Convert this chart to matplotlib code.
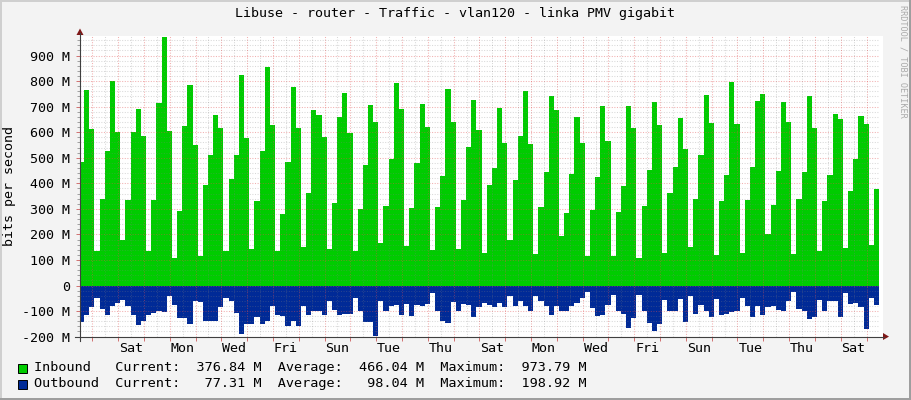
import matplotlib
matplotlib.use("Agg")
import matplotlib.pyplot as plt
import numpy as np
from matplotlib.lines import Line2D
from matplotlib.patches import Rectangle, Polygon

# traffic in M bit/s, one sample every 4.8 h (5 per day)
inbound = [
    484, 767, 611, 137, 338, 525, 802, 601, 180, 334, 601, 689, 584, 137, 334,
    713, 974, 603, 108, 291, 623, 783, 549, 116, 393, 510, 666,
    616, 137, 416, 510, 822, 577, 143, 330, 525, 857, 627, 137, 281, 482, 775,
    616, 152, 362, 685, 666, 580, 143, 322, 658, 755, 597,
    137, 299, 471, 705, 638, 168, 312, 495, 792, 690, 155, 303, 480, 710, 619,
    140, 307, 429, 771, 638, 143, 336, 542, 728, 609, 129, 393,
    460, 693, 557, 178, 412, 584, 763, 553, 124, 307, 443, 740, 685, 194, 283,
    436, 658, 557, 116, 295, 424, 701, 564, 116, 287, 389,
    704, 615, 108, 311, 451, 720, 627, 127, 362, 463, 654, 533, 151, 338, 510,
    744, 635, 120, 330, 432, 795, 631, 127, 334, 463, 724, 748,
    203, 316, 447, 718, 638, 124, 338, 443, 740, 615, 137, 330, 432, 670, 650,
    147, 369, 494, 662, 631, 159, 377,
]
# drawn below zero
outbound = [
    144, 117, 85, 47, 92, 117, 82, 69, 56, 82, 114, 155, 137, 117, 109,
    101, 105, 43, 75, 127, 127, 151, 62, 66, 140, 140, 140,
    85, 47, 62, 108, 189, 150, 150, 125, 150, 138, 79, 114, 121, 157, 140,
    160, 82, 116, 98, 101, 116, 59, 95, 117, 111, 111,
    47, 98, 144, 144, 199, 59, 98, 79, 78, 117, 72, 121, 75, 82, 72,
    29, 101, 137, 147, 66, 101, 73, 75, 124, 85, 69, 75,
    85, 69, 85, 43, 82, 59, 82, 101, 43, 60, 82, 117, 82, 99, 101,
    82, 69, 49, 26, 90, 121, 114, 75, 39, 101, 112,
    166, 127, 36, 101, 147, 179, 151, 56, 98, 98, 53, 143, 40, 112, 75,
    101, 124, 52, 117, 111, 104, 98, 47, 82, 124, 82, 117,
    85, 82, 95, 98, 62, 25, 92, 101, 131, 124, 56, 101, 62, 62, 124,
    30, 72, 69, 85, 170, 49, 77,
]

# hours relative to the first Friday 00:00
step_hours = 4.8
first_step = -12.4
view_start = -11.44
view_end = 731.6

day_labels = ["Sat", "Mon", "Wed", "Fri", "Sun", "Tue", "Thu", "Sat",
              "Mon", "Wed", "Fri", "Sun", "Tue", "Thu", "Sat"]
y_ticks = [-200, -100, 0, 100, 200, 300, 400, 500, 600, 700, 800, 900]

series_names = ["Inbound", "Outbound"]
series_colors = ["#00CC00", "#002A97"]
current = [376.84, 77.31]
average = [466.04, 98.04]
maximum = [973.79, 198.92]

title = "Libuse - router - Traffic - vlan120 - linka PMV gigabit"

W, H = 911, 400
plt.rcParams["font.family"] = "DejaVu Sans Mono"
FS = 9.6


def fx(px):
    return px / W


def fy(py):
    return 1 - py / H


fig = plt.figure(figsize=(W / 100, H / 100), dpi=100, facecolor="#F3F3F3")

# frame shading like rrdtool
fig.add_artist(Rectangle((0, fy(2)), 1, 2 / H, transform=fig.transFigure,
                         color="#CFCFCF", lw=0))
fig.add_artist(Rectangle((0, 0), 2 / W, 1, transform=fig.transFigure,
                         color="#CFCFCF", lw=0))
fig.add_artist(Rectangle((0, 0), 1, 2 / H, transform=fig.transFigure,
                         color="#9E9E9E", lw=0))
fig.add_artist(Rectangle((fx(909), 0), 2 / W, 1, transform=fig.transFigure,
                         color="#9E9E9E", lw=0))
# canvas continues a few px past the last sample
fig.add_artist(Rectangle((fx(879), fy(336.6)), 4 / W, (336.6 - 36.4) / H,
                         transform=fig.transFigure, color="white", lw=0))

ax = fig.add_axes([fx(80), fy(336.6), 799 / W, (336.6 - 36.4) / H])
ax.set_facecolor("white")

edges = first_step + step_hours * np.arange(len(inbound) + 1)
ax.stairs(inbound, edges, baseline=0, fill=True, color=series_colors[0], lw=0, zorder=1)
ax.stairs(-np.array(outbound), edges, baseline=0, fill=True, color=series_colors[1], lw=0, zorder=1)

# grid on top of the areas
minor_y = [v for v in range(-200, 976, 20) if v % 100]
major_y = list(range(-200, 976, 100))
ax.hlines(minor_y, view_start, view_end, colors="#808080", alpha=0.3,
          linestyles=(0, (1, 1.5)), lw=0.75, zorder=2)
ax.hlines(major_y, view_start, view_end, colors="#E05050", alpha=0.45,
          linestyles=(0, (1, 1.5)), lw=0.75, zorder=2)
ax.vlines(np.arange(12, view_end, 24), -200, 975, colors="#808080", alpha=0.3,
          linestyles=(0, (1, 1.5)), lw=0.75, zorder=2)
ax.vlines(np.arange(0, view_end, 24), -200, 975, colors="#E05050", alpha=0.45,
          linestyles=(0, (1, 1.5)), lw=0.75, zorder=2)

ax.set_xlim(view_start, view_end)
ax.set_ylim(-200, 975)
for s in ax.spines.values():
    s.set_visible(False)

ax.set_yticks(y_ticks, [f"{v} M" if v else "0" for v in y_ticks])
ax.set_yticks(minor_y, minor=True)
ax.tick_params(axis="y", which="major", length=3, width=0.7, color="#D07070",
               pad=4, labelsize=FS)
ax.tick_params(axis="y", which="minor", length=2, width=0.7, color="#A0A0A0")

midnights = np.arange(0, view_end, 24)
ax.set_xticks(midnights, [""] * len(midnights))
ax.set_xticks(36 + 48 * np.arange(len(day_labels)), day_labels, minor=True)
ax.tick_params(axis="x", which="major", length=3, width=0.7, color="#D07070")
ax.tick_params(axis="x", which="minor", length=0, pad=4, labelsize=FS)

# axes with arrows
axis_col = "#404040"
arrow_col = "#7F1818"
fig.add_artist(Line2D([fx(75), fx(884)], [fy(336.6), fy(336.6)],
                      transform=fig.transFigure, color=axis_col, lw=0.8))
fig.add_artist(Line2D([fx(80), fx(80)], [fy(341), fy(33)],
                      transform=fig.transFigure, color=axis_col, lw=0.8))
fig.add_artist(Polygon([[fx(883), fy(333)], [fx(889), fy(336.6)], [fx(883), fy(340)]],
                       closed=True, transform=fig.transFigure, color=arrow_col, lw=0))
fig.add_artist(Polygon([[fx(76.5), fy(35)], [fx(80), fy(28.5)], [fx(83.5), fy(35)]],
                       closed=True, transform=fig.transFigure, color=arrow_col, lw=0))

fig.text(fx(455), fy(14), title, ha="center", va="center", fontsize=FS)
fig.text(fx(10), fy(186), "bits per second", rotation=90, ha="center", va="center",
         fontsize=FS)
fig.text(fx(902.5), fy(5), "RRDTOOL / TOBI OETIKER", rotation=270, ha="center",
         va="top", fontsize=6.1, color="#AAAAAA")

# legend rows
for i, name in enumerate(series_names):
    yc = 368 + 16 * i
    fig.add_artist(Rectangle((fx(18), fy(yc + 4.5)), 9 / W, 9 / H,
                             transform=fig.transFigure, facecolor=series_colors[i],
                             edgecolor="black", lw=0.7))
    row = (f"{name:<10}Current:{current[i]:8.2f} M  "
           f"Average:{average[i]:8.2f} M  Maximum:{maximum[i]:8.2f} M")
    fig.text(fx(34), fy(yc), row, ha="left", va="center", fontsize=9.7)

fig.savefig("out.png", dpi=100, facecolor=fig.get_facecolor())
